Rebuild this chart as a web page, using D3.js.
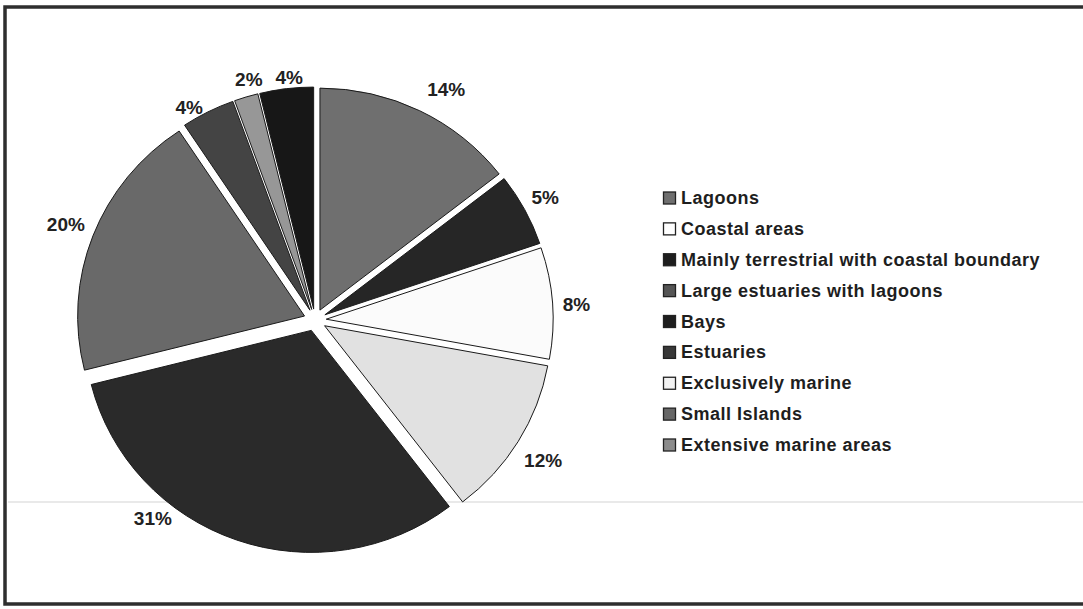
<!DOCTYPE html>
<html>
<head>
<meta charset="utf-8">
<script src="https://cdn.jsdelivr.net/npm/d3@7"></script>
<style>
  html, body { margin: 0; padding: 0; background: #fff; }
  svg { display: block; font-family: "Liberation Sans", Arial, sans-serif; font-weight: bold; }
</style>
</head>
<body>
<svg id="chart"></svg>
<script>
// categories in legend order, values in slice order (clockwise from 12 o'clock)
const categories = [
  "Lagoons",
  "Coastal areas",
  "Mainly terrestrial with coastal boundary",
  "Large estuaries with lagoons",
  "Bays",
  "Estuaries",
  "Exclusively marine",
  "Small Islands",
  "Extensive marine areas",
]
// shares (labels show them rounded)
const values = [14.49, 5.3, 8.1, 11.7, 31.49, 19.6, 3.8, 1.7, 3.82]
const labels = ["14%", "5%", "8%", "12%", "31%", "20%", "4%", "2%", "4%"]

// the scan is grayscale, so pie greys and legend greys do not line up
const sliceColors = ["#6f6f6f", "#262626", "#fbfbfb", "#e1e1e1", "#2a2a2a", "#696969", "#444444", "#979797", "#171717"]
const legendColors = ["#6f6f6f", "#ffffff", "#1e1e1e", "#555555", "#1e1e1e", "#383838", "#f2f2f2", "#666666", "#8c8c8c"]

// label placement tweaks: [degrees along the arc, px outward]
const labelNudge = [[3.6, 3], [0.2, -1], [0.7, 0], [0.2, 6], [20.1, -6], [-0.1, 5], [-3.9, -15], [1.4, -13], [0.8, -18]]

const width = 1083
const height = 609
const cx = 315
const cy = 320
const radius = 222
const stretchX = 1.022 // scan is a touch wider than tall
const explode = 11
const labelRadius = 262

const svg = d3.select("#chart").attr("width", width).attr("height", height)

// frame (right side runs off the scan)
svg.append("path")
  .attr("d", `M${width + 5},7 H5 V604 H${width + 5}`)
  .attr("fill", "none")
  .attr("stroke", "#2e2e2e")
  .attr("stroke-width", 3.5)

// faint scan line
svg.append("line")
  .attr("x1", 8).attr("x2", width).attr("y1", 502).attr("y2", 502)
  .attr("stroke", "#e2e2e2").attr("stroke-width", 1.5)

const data = categories.map((name, i) => ({ name, value: values[i], label: labels[i], i }))

const pie = d3.pie().sort(null).value((d) => d.value)
const arcs = pie(data)
const arc = d3.arc().innerRadius(0).outerRadius(radius)

const mid = (d) => (d.startAngle + d.endAngle) / 2

const slices = svg.append("g")
  .attr("transform", `translate(${cx},${cy}) scale(${stretchX},1)`)

slices.selectAll(".slice")
  .data(arcs)
  .join("path")
  .attr("class", "slice")
  .attr("d", arc)
  .attr("transform", (d) => {
    const a = mid(d)
    return `translate(${Math.sin(a) * explode},${-Math.cos(a) * explode})`
  })
  .attr("fill", (d) => sliceColors[d.index])
  .attr("stroke", "#1a1a1a")
  .attr("stroke-width", 1)
  .attr("vector-effect", "non-scaling-stroke")

const labelPos = (d) => {
  const [da, dr] = labelNudge[d.index]
  const a = mid(d) + (da * Math.PI) / 180
  return [Math.sin(a) * (labelRadius + dr), -Math.cos(a) * (labelRadius + dr)]
}

svg.append("g")
  .attr("transform", `translate(${cx},${cy})`)
  .selectAll(".pct")
  .data(arcs)
  .join("text")
  .attr("class", "pct")
  .attr("x", (d) => labelPos(d)[0])
  .attr("y", (d) => labelPos(d)[1])
  .attr("text-anchor", "middle")
  .attr("dominant-baseline", "central")
  .attr("font-size", 19)
  .attr("fill", "#222")
  .text((d) => d.data.label)

// legend
const legendY = d3.scalePoint().domain(categories).range([198, 445])
const legend = svg.append("g").attr("transform", "translate(663,0)")

const rows = legend.selectAll(".row")
  .data(categories)
  .join("g")
  .attr("class", "row")
  .attr("transform", (d) => `translate(0,${legendY(d)})`)

rows.append("rect")
  .attr("x", 0.5)
  .attr("y", -6)
  .attr("width", 12)
  .attr("height", 12)
  .attr("fill", (d, i) => legendColors[i])
  .attr("stroke", "#222")
  .attr("stroke-width", 1.3)

rows.append("text")
  .attr("x", 18)
  .attr("dominant-baseline", "central")
  .attr("font-size", 18)
  .attr("letter-spacing", 0.5)
  .attr("fill", "#1e1e1e")
  .text((d) => d)
</script>
</body>
</html>
